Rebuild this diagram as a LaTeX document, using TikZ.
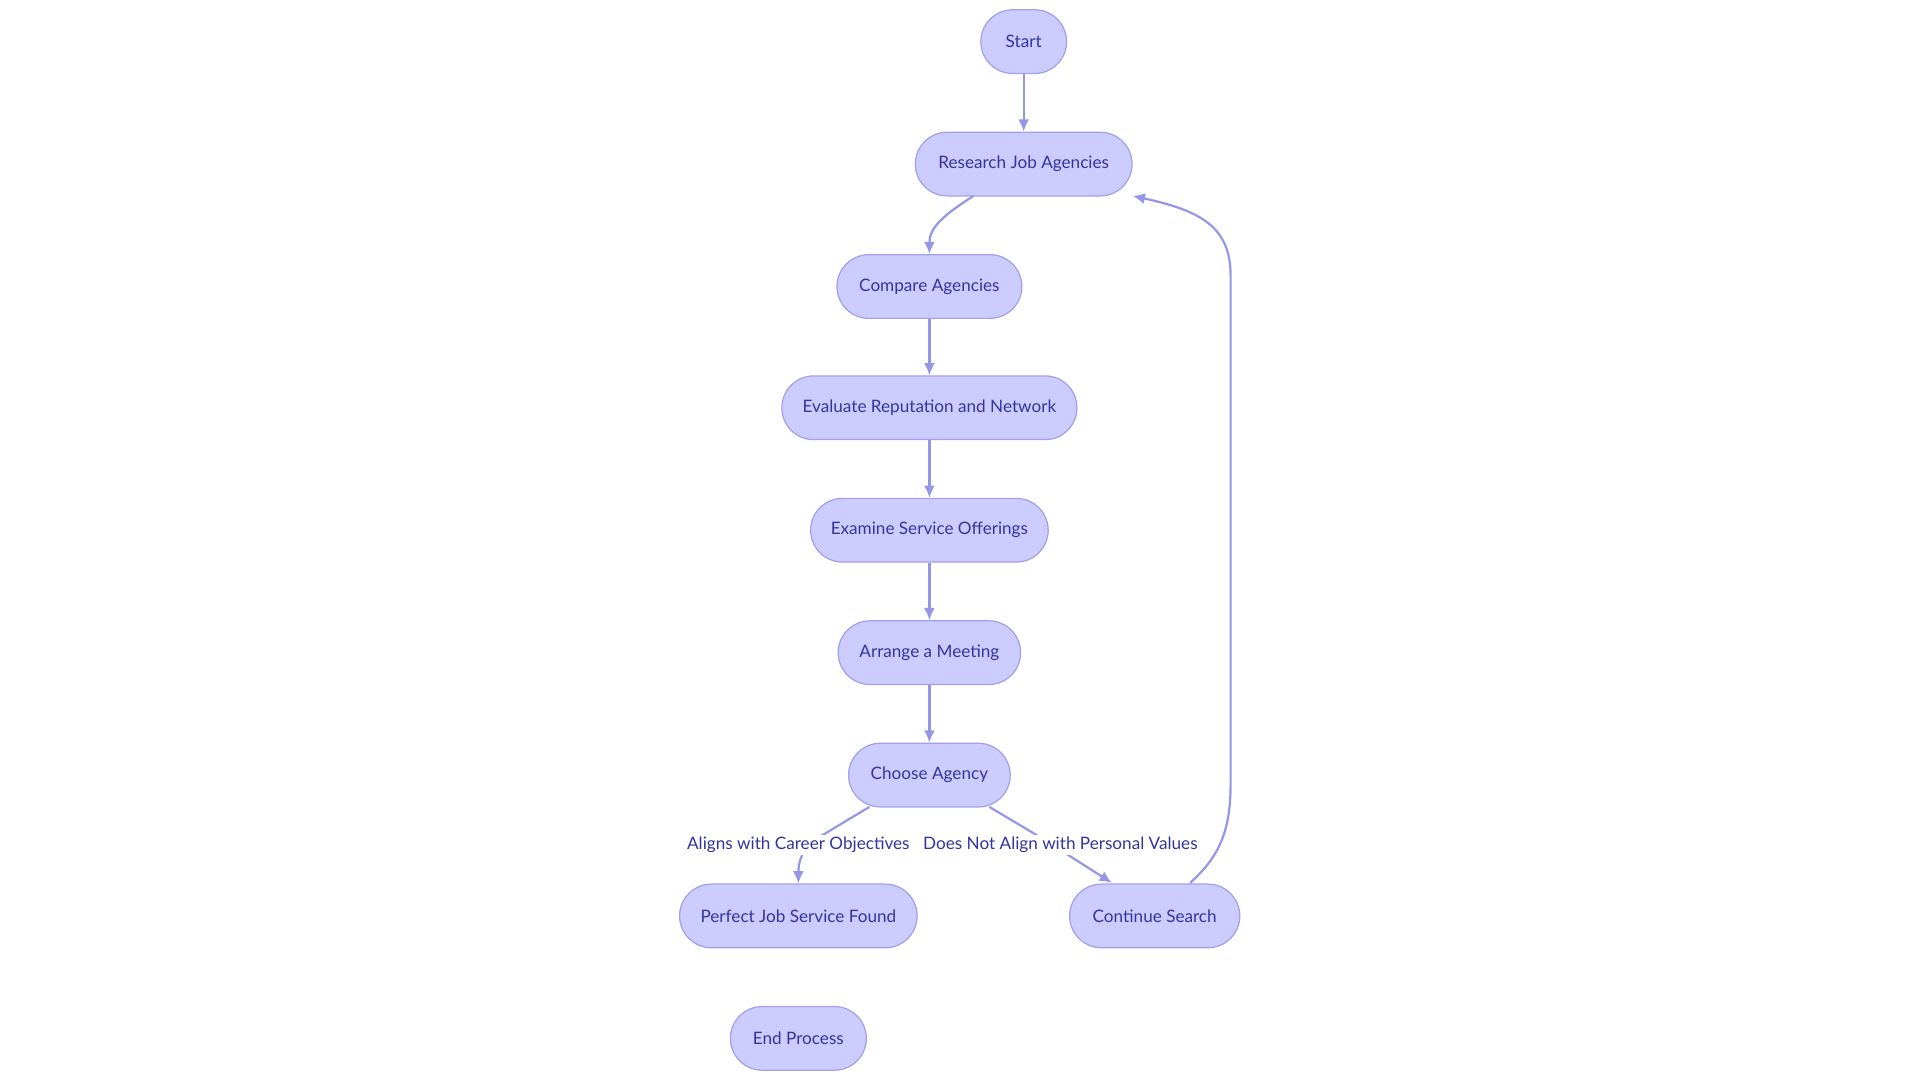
\documentclass[tikz,border=0pt]{standalone}
\usepackage{fontspec}
\setmainfont{Lato}
\usetikzlibrary{arrows.meta}
\definecolor{nfill}{RGB}{204,204,255}
\definecolor{nline}{RGB}{160,160,235}
\definecolor{eline}{RGB}{150,150,232}
\definecolor{ntext}{RGB}{52,52,160}
\begin{document}
\begin{tikzpicture}[x=0.5pt,y=-0.5pt,
  box/.style={draw=nline,fill=nfill,rounded corners=13pt,minimum height=26pt,inner sep=0pt,text=ntext,font=\fontsize{7}{8}\selectfont,line width=0.5pt},
  edge/.style={draw=eline,line width=0.9pt,-{Latex[length=5pt,width=4.5pt]}},
  lbl/.style={fill=white,text=ntext,font=\fontsize{7}{8}\selectfont,inner sep=1pt}]
\useasboundingbox (0,0) rectangle (1568,882);
\node[box,minimum width=35pt] (s) at (836,34) {Start};
\node[box,minimum width=88.5pt] (r) at (836,134) {Research Job Agencies};
\node[box,minimum width=75.5pt] (c) at (759,234) {Compare Agencies};
\node[box,minimum width=120.5pt] (e) at (759,333) {Evaluate Reputation and Network};
\node[box,minimum width=97pt] (x) at (759,433) {Examine Service Offerings};
\node[box,minimum width=74.5pt] (a) at (759,533) {Arrange a Meeting};
\node[box,minimum width=66pt] (ch) at (759,633) {Choose Agency};
\node[box,minimum width=97pt] (p) at (652,748) {Perfect Job Service Found};
\node[box,minimum width=69.5pt] (cs) at (943,748) {Continue Search};
\node[box,minimum width=55.5pt] (en) at (652,848) {End Process};
\draw[edge] (s) -- (r);
\draw[edge] (795,160) .. controls (770,176) and (759,186) .. (c.north);
\draw[edge] (c) -- (e);
\draw[edge] (e) -- (x);
\draw[edge] (x) -- (a);
\draw[edge] (a) -- (ch);
\draw[edge] (710,659) -- (665,686) .. controls (655,694) and (652,704) .. (p.north);
\draw[edge] (808,659) -- (850,684) -- (908,721);
\node[lbl] (l1) at (652,690) {Aligns with Career Objectives};
\node[lbl] (l2) at (866,690) {Does Not Align with Personal Values};
\draw[edge] (972,721) .. controls (995,700) and (1005,680) .. (1005,640) -- (1005,225) .. controls (1005,185) and (980,172) .. (925,160);
\end{tikzpicture}
\end{document}
